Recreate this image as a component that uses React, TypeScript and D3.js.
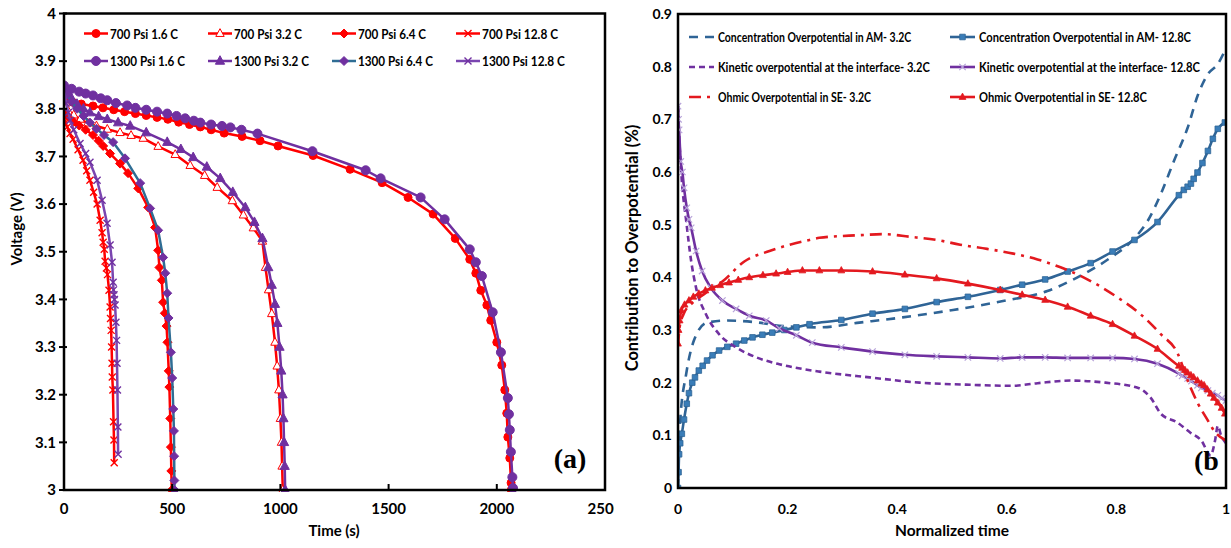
import React from 'react';
import * as d3 from 'd3';

const W = 1231;
const H = 548;
const FONT = 'Lato, "Open Sans", sans-serif';

// ---------------- Left panel (a): voltage vs time ----------------
const timeTicks = [0, 500, 1000, 1500, 2000, 2500];
const timeTickLabels = ['0', '500', '1000', '1500', '2000', '2500'];
const voltTicks = [3, 3.1, 3.2, 3.3, 3.4, 3.5, 3.6, 3.7, 3.8, 3.9, 4];
const voltTickLabels = ['3', '3.1', '3.2', '3.3', '3.4', '3.5', '3.6', '3.7', '3.8', '3.9', '4'];

const p700_16: [number, number][] = [
  [0, 3.818], [40, 3.814], [80, 3.81], [134, 3.806], [180, 3.802], [230, 3.798], [280, 3.794],
  [330, 3.79], [380, 3.786], [430, 3.782], [480, 3.778], [530, 3.772], [580, 3.767], [630, 3.762],
  [680, 3.756], [740, 3.749], [823, 3.742], [906, 3.733], [989, 3.722], [1151, 3.702], [1322, 3.673],
  [1470, 3.645], [1590, 3.614], [1706, 3.579], [1808, 3.528], [1875, 3.484], [1903, 3.455],
  [1926, 3.419], [1954, 3.388], [1972, 3.356], [2000, 3.31], [2023, 3.262], [2037, 3.21],
  [2046, 3.161], [2051, 3.111], [2060, 3.067], [2066, 3.015], [2067, 3.0],
];
const p700_32: [number, number][] = [
  [0, 3.805], [20, 3.795], [45, 3.787], [75, 3.778], [110, 3.77], [150, 3.764], [200, 3.757],
  [259, 3.75], [310, 3.744], [366, 3.738], [435, 3.721], [514, 3.704], [583, 3.681], [650, 3.66],
  [708, 3.635], [778, 3.607], [829, 3.577], [875, 3.55], [917, 3.522], [931, 3.467], [945, 3.42],
  [960, 3.37], [975, 3.31], [985, 3.26], [993, 3.21], [1000, 3.15], [1005, 3.1], [1008, 3.05],
  [1011, 3.0],
];
const p700_64: [number, number][] = [
  [0, 3.79], [20, 3.782], [45, 3.773], [70, 3.765], [100, 3.756], [134, 3.745], [160, 3.733],
  [181, 3.722], [213, 3.706], [259, 3.685], [296, 3.665], [343, 3.633], [389, 3.593], [421, 3.551],
  [435, 3.503], [441, 3.467], [452, 3.44], [458, 3.394], [466, 3.371], [474, 3.344], [478, 3.31],
  [484, 3.25], [487, 3.216], [491, 3.15], [494, 3.09], [496, 3.04], [498, 3.0],
];
const p700_128: [number, number][] = [
  [0, 3.778], [15, 3.762], [28, 3.748], [42, 3.736], [65, 3.714], [88, 3.692], [105, 3.67],
  [120, 3.65], [137, 3.625], [153, 3.6], [167, 3.566], [176, 3.54], [181, 3.52], [186, 3.505],
  [190, 3.48], [196, 3.466], [201, 3.452], [208, 3.419], [213, 3.384], [215, 3.36], [218, 3.335],
  [220, 3.3], [222, 3.266], [223, 3.237], [226, 3.21], [229, 3.143], [231, 3.105], [232, 3.057],
];
const p1300_16: [number, number][] = [
  [0, 3.849], [35, 3.842], [70, 3.836], [100, 3.832], [134, 3.828], [170, 3.822], [200, 3.818],
  [240, 3.812], [292, 3.807], [330, 3.802], [380, 3.798], [430, 3.794], [477, 3.79], [520, 3.785],
  [560, 3.78], [600, 3.775], [630, 3.771], [680, 3.767], [730, 3.764], [769, 3.761], [820, 3.756],
  [894, 3.748], [1148, 3.711], [1394, 3.671], [1463, 3.654], [1648, 3.614], [1759, 3.568],
  [1875, 3.505], [1903, 3.478], [1931, 3.449], [1981, 3.373], [2019, 3.289], [2051, 3.193],
  [2056, 3.159], [2060, 3.126], [2065, 3.08], [2072, 3.027], [2075, 3.004],
];
const p1300_32: [number, number][] = [
  [0, 3.848], [15, 3.835], [35, 3.822], [60, 3.81], [90, 3.8], [120, 3.792], [160, 3.784],
  [200, 3.778], [250, 3.771], [306, 3.764], [380, 3.75], [477, 3.73], [540, 3.715], [597, 3.698],
  [660, 3.678], [722, 3.654], [780, 3.625], [838, 3.593], [880, 3.562], [917, 3.528], [944, 3.467],
  [960, 3.43], [975, 3.39], [986, 3.35], [996, 3.3], [1004, 3.25], [1010, 3.2], [1014, 3.15],
  [1017, 3.1], [1020, 3.05], [1022, 3.0],
];
const p1300_64: [number, number][] = [
  [0, 3.845], [15, 3.83], [35, 3.815], [60, 3.8], [90, 3.785], [120, 3.771], [150, 3.758],
  [185, 3.745], [227, 3.73], [282, 3.696], [352, 3.644], [398, 3.591], [435, 3.545], [458, 3.488],
  [468, 3.455], [477, 3.413], [483, 3.361], [494, 3.289], [500, 3.235], [505, 3.17], [508, 3.124],
  [509, 3.071], [510, 3.02], [511, 3.0],
];
const p1300_128: [number, number][] = [
  [0, 3.84], [10, 3.812], [20, 3.792], [28, 3.776], [45, 3.756], [74, 3.727], [100, 3.706],
  [120, 3.688], [153, 3.65], [176, 3.608], [199, 3.56], [213, 3.514], [222, 3.478], [227, 3.436],
  [229, 3.42], [231, 3.41], [233, 3.4], [236, 3.388], [240, 3.352], [243, 3.314], [245, 3.266],
  [247, 3.21], [249, 3.132], [250, 3.075],
];

const RED = '#FF0000';
const PURPLE = '#7030A0';
const TEAL = '#2F6D94';

const leftSeries = [
  { name: '700 Psi 1.6 C', data: p700_16, line: RED, marker: 'circle', fill: RED, stroke: RED, r: 4 },
  { name: '700 Psi 3.2 C', data: p700_32, line: RED, marker: 'triangle', fill: '#fff', stroke: RED, r: 4.2 },
  { name: '700 Psi 6.4 C', data: p700_64, line: RED, marker: 'diamond', fill: RED, stroke: RED, r: 4.5 },
  { name: '700 Psi 12.8 C', data: p700_128, line: RED, marker: 'x', fill: 'none', stroke: RED, r: 3.5 },
  { name: '1300 Psi 1.6 C', data: p1300_16, line: PURPLE, marker: 'circle', fill: PURPLE, stroke: PURPLE, r: 4.5 },
  { name: '1300 Psi 3.2 C', data: p1300_32, line: PURPLE, marker: 'triangle', fill: PURPLE, stroke: PURPLE, r: 4.6 },
  { name: '1300 Psi 6.4 C', data: p1300_64, line: TEAL, marker: 'diamond', fill: PURPLE, stroke: PURPLE, r: 4.5 },
  { name: '1300 Psi 12.8 C', data: p1300_128, line: '#7A45B0', marker: 'x', fill: 'none', stroke: PURPLE, r: 3.5 },
];

// ---------------- Right panel (b): overpotential contributions ----------------
const normTicks = [0, 0.2, 0.4, 0.6, 0.8, 1];
const normTickLabels = ['0', '0.2', '0.4', '0.6', '0.8', '1'];
const contribTicks = [0, 0.1, 0.2, 0.3, 0.4, 0.5, 0.6, 0.7, 0.8, 0.9];
const contribTickLabels = ['0', '0.1', '0.2', '0.3', '0.4', '0.5', '0.6', '0.7', '0.8', '0.9'];

const concAM32: [number, number][] = [
  [0, 0], [0.004, 0.127], [0.015, 0.217], [0.029, 0.28], [0.053, 0.314], [0.09, 0.318],
  [0.148, 0.314], [0.185, 0.308], [0.258, 0.305], [0.331, 0.314], [0.41, 0.324], [0.502, 0.338],
  [0.593, 0.355], [0.674, 0.374], [0.729, 0.4], [0.786, 0.435], [0.829, 0.47], [0.857, 0.507],
  [0.881, 0.558], [0.905, 0.621], [0.93, 0.684], [0.949, 0.747], [0.967, 0.786], [0.985, 0.805],
  [1.0, 0.835],
];
const concAM128: [number, number][] = [
  [0, 0], [0.001, 0.03], [0.002, 0.064], [0.004, 0.085], [0.007, 0.103], [0.011, 0.13],
  [0.016, 0.16], [0.02, 0.18], [0.026, 0.2], [0.031, 0.21], [0.038, 0.223], [0.045, 0.232],
  [0.053, 0.242], [0.063, 0.252], [0.075, 0.261], [0.09, 0.268], [0.106, 0.274], [0.121, 0.28],
  [0.136, 0.286], [0.154, 0.291], [0.172, 0.295], [0.194, 0.3], [0.216, 0.305], [0.24, 0.311],
  [0.298, 0.319], [0.355, 0.331], [0.414, 0.34], [0.472, 0.353], [0.529, 0.363], [0.588, 0.376],
  [0.628, 0.386], [0.67, 0.396], [0.711, 0.411], [0.753, 0.427], [0.793, 0.449], [0.833, 0.471],
  [0.875, 0.505], [0.914, 0.556], [0.923, 0.566], [0.93, 0.572], [0.936, 0.578], [0.941, 0.587],
  [0.948, 0.599], [0.957, 0.617], [0.967, 0.64], [0.976, 0.663], [0.985, 0.682], [0.998, 0.694],
];
const kinetic32: [number, number][] = [
  [0, 0.725], [0.003, 0.65], [0.007, 0.583], [0.015, 0.507], [0.024, 0.431], [0.033, 0.38],
  [0.051, 0.33], [0.075, 0.292], [0.106, 0.267], [0.143, 0.248], [0.185, 0.235], [0.227, 0.226],
  [0.258, 0.221], [0.35, 0.21], [0.441, 0.2], [0.533, 0.196], [0.61, 0.194], [0.656, 0.199],
  [0.716, 0.204], [0.78, 0.2], [0.84, 0.19], [0.862, 0.172], [0.882, 0.14], [0.91, 0.125],
  [0.935, 0.105], [0.955, 0.09], [0.972, 0.062], [0.98, 0.09], [0.985, 0.118], [0.991, 0.1],
  [1.0, 0.085],
];
const kinetic128: [number, number][] = [
  [0, 0.725], [0.001, 0.7], [0.002, 0.68], [0.005, 0.62], [0.008, 0.6], [0.011, 0.57],
  [0.016, 0.532], [0.02, 0.51], [0.024, 0.494], [0.033, 0.45], [0.044, 0.412], [0.06, 0.38],
  [0.081, 0.356], [0.106, 0.34], [0.13, 0.327], [0.161, 0.318], [0.185, 0.303], [0.216, 0.29],
  [0.245, 0.276], [0.298, 0.267], [0.355, 0.259], [0.414, 0.253], [0.472, 0.25], [0.529, 0.248],
  [0.588, 0.246], [0.628, 0.248], [0.67, 0.248], [0.711, 0.247], [0.753, 0.247], [0.793, 0.247],
  [0.833, 0.245], [0.875, 0.236], [0.914, 0.217], [0.92, 0.213], [0.93, 0.208], [0.937, 0.203],
  [0.948, 0.195], [0.955, 0.19], [0.967, 0.185], [0.975, 0.18], [0.985, 0.176], [0.992, 0.17],
  [1.0, 0.166],
];
const ohmic32: [number, number][] = [
  [0, 0.27], [0.003, 0.305], [0.01, 0.33], [0.025, 0.35], [0.05, 0.37], [0.081, 0.392],
  [0.121, 0.43], [0.167, 0.45], [0.24, 0.471], [0.258, 0.475], [0.331, 0.48], [0.374, 0.482],
  [0.423, 0.477], [0.472, 0.471], [0.515, 0.462], [0.564, 0.454], [0.612, 0.445], [0.656, 0.434],
  [0.698, 0.419], [0.74, 0.4], [0.802, 0.362], [0.844, 0.33], [0.881, 0.292], [0.912, 0.255],
  [0.93, 0.204], [0.949, 0.16], [0.967, 0.128], [0.978, 0.109], [1.0, 0.09],
];
const ohmic128: [number, number][] = [
  [0, 0.274], [0.001, 0.3], [0.003, 0.318], [0.006, 0.337], [0.012, 0.348], [0.02, 0.356],
  [0.028, 0.363], [0.038, 0.369], [0.05, 0.375], [0.062, 0.38], [0.077, 0.385], [0.093, 0.39],
  [0.11, 0.395], [0.13, 0.4], [0.155, 0.404], [0.179, 0.407], [0.2, 0.41], [0.227, 0.413],
  [0.258, 0.413], [0.298, 0.413], [0.355, 0.411], [0.414, 0.405], [0.472, 0.398], [0.529, 0.388],
  [0.588, 0.376], [0.628, 0.367], [0.67, 0.357], [0.711, 0.344], [0.753, 0.327], [0.793, 0.311],
  [0.833, 0.289], [0.875, 0.264], [0.914, 0.232], [0.92, 0.228], [0.925, 0.224], [0.93, 0.219],
  [0.936, 0.214], [0.941, 0.21], [0.948, 0.204], [0.955, 0.198], [0.96, 0.195], [0.966, 0.187],
  [0.972, 0.179], [0.978, 0.171], [0.985, 0.162], [0.992, 0.152], [0.998, 0.141],
];

const BLUE = '#2F6496';
const RRED = '#E3191F';

const rightSeries = [
  { name: 'Concentration Overpotential in AM- 3.2C', data: concAM32, line: BLUE, dash: '9,7', marker: null, fill: '', stroke: '', r: 0, col: 0, row: 0, tl: 193 },
  { name: 'Concentration Overpotential in AM- 12.8C', data: concAM128, line: BLUE, dash: null, marker: 'square', fill: '#3A7DB8', stroke: BLUE, r: 2.8, col: 1, row: 0, tl: 212 },
  { name: 'Kinetic overpotential at the interface- 3.2C', data: kinetic32, line: PURPLE, dash: '6,4', marker: null, fill: '', stroke: '', r: 0, col: 0, row: 1, tl: 212 },
  { name: 'Kinetic overpotential at the interface- 12.8C', data: kinetic128, line: PURPLE, dash: null, marker: 'x', fill: 'none', stroke: '#B8A4DA', r: 3.2, col: 1, row: 1, tl: 221 },
  { name: 'Ohmic Overpotential in SE- 3.2C', data: ohmic32, line: RRED, dash: '12,6,3,6', marker: null, fill: '', stroke: '', r: 0, col: 0, row: 2, tl: 153 },
  { name: 'Ohmic Overpotential in SE- 12.8C', data: ohmic128, line: RRED, dash: null, marker: 'triangle', fill: RRED, stroke: RRED, r: 3.4, col: 1, row: 2, tl: 168 },
];

function markerPath(type: string, r: number): string {
  switch (type) {
    case 'circle':
      return `M${-r},0A${r},${r} 0 1,0 ${r},0A${r},${r} 0 1,0 ${-r},0Z`;
    case 'square':
      return `M${-r},${-r}h${2 * r}v${2 * r}h${-2 * r}Z`;
    case 'triangle':
      return `M0,${-r * 1.15}L${r},${r * 0.7}L${-r},${r * 0.7}Z`;
    case 'diamond':
      return `M0,${-r}L${r},0L0,${r}L${-r},0Z`;
    case 'x':
      return `M${-r},${-r}L${r},${r}M${-r},${r}L${r},${-r}`;
    default:
      return '';
  }
}

// Text squeezed horizontally to a given width (Calibri-like narrow look)
function FitText(props: { x: number; y: number; width: number; size: number; children: string }) {
  const ref = React.useRef<SVGTextElement | null>(null);
  const [sx, setSx] = React.useState(0.82);
  React.useLayoutEffect(() => {
    const measure = () => {
      if (ref.current) {
        const w = ref.current.getComputedTextLength();
        if (w > 0) setSx(props.width / w);
      }
    };
    measure();
    if ((document as any).fonts && (document as any).fonts.ready) {
      (document as any).fonts.ready.then(measure);
    }
  }, [props.width, props.children]);
  return (
    <text
      ref={ref}
      transform={`translate(${props.x},${props.y}) scale(${sx},1)`}
      dy="0.36em"
      fontSize={props.size}
      fontWeight="bold"
      fill="#000"
    >
      {props.children}
    </text>
  );
}

const LP = { x0: 64, x1: 605, yTop: 13.5, yBot: 490 };
const RP = { x0: 678, x1: 1226, yTop: 14, yBot: 488 };

export default function App() {
  const xL = d3.scaleLinear().domain([0, 2500]).range([LP.x0, LP.x1]);
  const yL = d3.scaleLinear().domain([3, 4]).range([LP.yBot, LP.yTop]);
  const xR = d3.scaleLinear().domain([0, 1]).range([RP.x0, RP.x1]);
  const yR = d3.scaleLinear().domain([0, 0.9]).range([RP.yBot, RP.yTop]);

  const lineL = d3.line<[number, number]>().x((d) => xL(d[0])).y((d) => yL(d[1]));
  const lineR = d3
    .line<[number, number]>()
    .x((d) => xR(d[0]))
    .y((d) => yR(d[1]))
    .curve(d3.curveMonotoneX);

  const leftLegendCols = [84, 208, 332, 456];
  const leftLegendRows = [33.5, 61];
  const leftLegendTL = [68, 68, 68, 76, 75, 75, 75, 83];

  const rightLegendCols = [689, 950];
  const rightLegendRows = [37, 67, 97];

  return (
    <svg
      width={W}
      height={H}
      viewBox={`0 0 ${W} ${H}`}
      style={{ position: 'absolute', left: 0, top: 0, background: '#fff' }}
      fontFamily={FONT}
    >
      <defs>
        <clipPath id="leftPanelClip">
          <rect x={0} y={0} width={614} height={H} />
        </clipPath>
        <clipPath id="leftPlotClip">
          <rect x={LP.x0} y={LP.yTop} width={LP.x1 - LP.x0} height={LP.yBot - LP.yTop + 2} />
        </clipPath>
        <clipPath id="rightPlotClip">
          <rect x={RP.x0} y={RP.yTop} width={RP.x1 - RP.x0} height={RP.yBot - RP.yTop} />
        </clipPath>
        <clipPath id="imageClip">
          <rect x={0} y={0} width={1231} height={H} />
        </clipPath>
      </defs>
      <rect x={0} y={0} width={W} height={H} fill="#fff" />

      {/* ===== LEFT PANEL ===== */}
      <g clipPath="url(#leftPanelClip)">
        <g clipPath="url(#leftPlotClip)">
          {leftSeries.map((s) => (
            <g key={s.name}>
              <path d={lineL(s.data) || ''} fill="none" stroke={s.line} strokeWidth={2.5} strokeLinejoin="round" />
              {s.data.map((d, i) => (
                <path
                  key={i}
                  transform={`translate(${xL(d[0])},${yL(d[1])})`}
                  d={markerPath(s.marker, s.r)}
                  fill={s.fill}
                  stroke={s.stroke}
                  strokeWidth={s.marker === 'x' ? 1.4 : 1}
                />
              ))}
            </g>
          ))}
        </g>
        <rect x={LP.x0} y={LP.yTop} width={LP.x1 - LP.x0} height={LP.yBot - LP.yTop} fill="none" stroke="#000" strokeWidth={2.5} />
        {voltTicks.map((v, i) => (
          <g key={'yt' + i}>
            <line x1={LP.x0 - 5} x2={LP.x0 + 3} y1={yL(v)} y2={yL(v)} stroke="#000" strokeWidth={2} />
            <text x={56} y={yL(v)} dy="0.35em" textAnchor="end" fontSize={15} fontWeight="bold" fill="#000">
              {voltTickLabels[i]}
            </text>
          </g>
        ))}
        {timeTicks.map((t, i) => (
          <g key={'xt' + i}>
            <line x1={xL(t)} x2={xL(t)} y1={LP.yBot} y2={LP.yBot - 6} stroke="#000" strokeWidth={2} />
            <text x={xL(t)} y={514} textAnchor="middle" fontSize={15} fontWeight="bold" fill="#000">
              {timeTickLabels[i]}
            </text>
          </g>
        ))}
        <text x={334} y={536} textAnchor="middle" fontSize={15} fontWeight="bold">Time (s)</text>
        <text transform="translate(22,229) rotate(-90)" textAnchor="middle" fontSize={15} fontWeight="bold">Voltage (V)</text>

        {leftSeries.map((s, i) => {
          const cx = leftLegendCols[i % 4];
          const cy = leftLegendRows[Math.floor(i / 4)];
          return (
            <g key={'lg' + i}>
              <line x1={cx} x2={cx + 24} y1={cy} y2={cy} stroke={s.line} strokeWidth={2.5} />
              <path
                transform={`translate(${cx + 12},${cy})`}
                d={markerPath(s.marker, s.r)}
                fill={s.fill}
                stroke={s.stroke}
                strokeWidth={s.marker === 'x' ? 1.4 : 1}
              />
              <FitText x={cx + 26} y={cy} width={leftLegendTL[i]} size={14}>
                {s.name}
              </FitText>
            </g>
          );
        })}
        <text x={570} y={468} textAnchor="middle" fontFamily='"Liberation Serif", serif' fontWeight="bold" fontSize={28}>
          (a)
        </text>
      </g>

      {/* ===== RIGHT PANEL ===== */}
      <g clipPath="url(#rightPlotClip)">
        {rightSeries.map((s) => (
          <g key={s.name}>
            <path
              d={lineR(s.data) || ''}
              fill="none"
              stroke={s.line}
              strokeWidth={2.6}
              strokeDasharray={s.dash || undefined}
              strokeLinejoin="round"
            />
            {s.marker &&
              s.data.map((d, i) => (
                <path
                  key={i}
                  transform={`translate(${xR(d[0])},${yR(d[1])})`}
                  d={markerPath(s.marker as string, s.r)}
                  fill={s.fill}
                  stroke={s.stroke}
                  strokeWidth={s.marker === 'x' ? 1.2 : 0.8}
                />
              ))}
          </g>
        ))}
      </g>
      <rect x={RP.x0} y={RP.yTop} width={RP.x1 - RP.x0} height={RP.yBot - RP.yTop} fill="none" stroke="#000" strokeWidth={2.5} />
      {contribTicks.map((v, i) => (
        <text key={'ryt' + i} x={672} y={yR(v)} dy="0.35em" textAnchor="end" fontSize={14} fontWeight="bold">
          {contribTickLabels[i]}
        </text>
      ))}
      {normTicks.map((t, i) => (
        <text key={'rxt' + i} x={xR(t)} y={514} textAnchor="middle" fontSize={14} fontWeight="bold">
          {normTickLabels[i]}
        </text>
      ))}
      <text x={952} y={536} textAnchor="middle" fontSize={15.5} fontWeight="bold">Normalized time</text>
      <text transform="translate(638,248) rotate(-90)" textAnchor="middle" fontSize={16.5} fontWeight="bold">
        Contribution to Overpotential (%)
      </text>

      {rightSeries.map((s, i) => {
        const cx = rightLegendCols[s.col];
        const cy = rightLegendRows[s.row];
        return (
          <g key={'rlg' + i}>
            <line x1={cx} x2={cx + 25} y1={cy} y2={cy} stroke={s.line} strokeWidth={2.6} strokeDasharray={s.dash || undefined} />
            {s.marker && (
              <path
                transform={`translate(${cx + 12.5},${cy})`}
                d={markerPath(s.marker as string, s.r)}
                fill={s.fill}
                stroke={s.stroke}
                strokeWidth={s.marker === 'x' ? 1.2 : 0.8}
              />
            )}
            <FitText x={cx + 29} y={cy} width={s.tl} size={12.5}>
              {s.name}
            </FitText>
          </g>
        );
      })}
      <text x={1194} y={470} textAnchor="start" fontFamily='"Liberation Serif", serif' fontWeight="bold" fontSize={28}>
        (b
      </text>
    </svg>
  );
}
